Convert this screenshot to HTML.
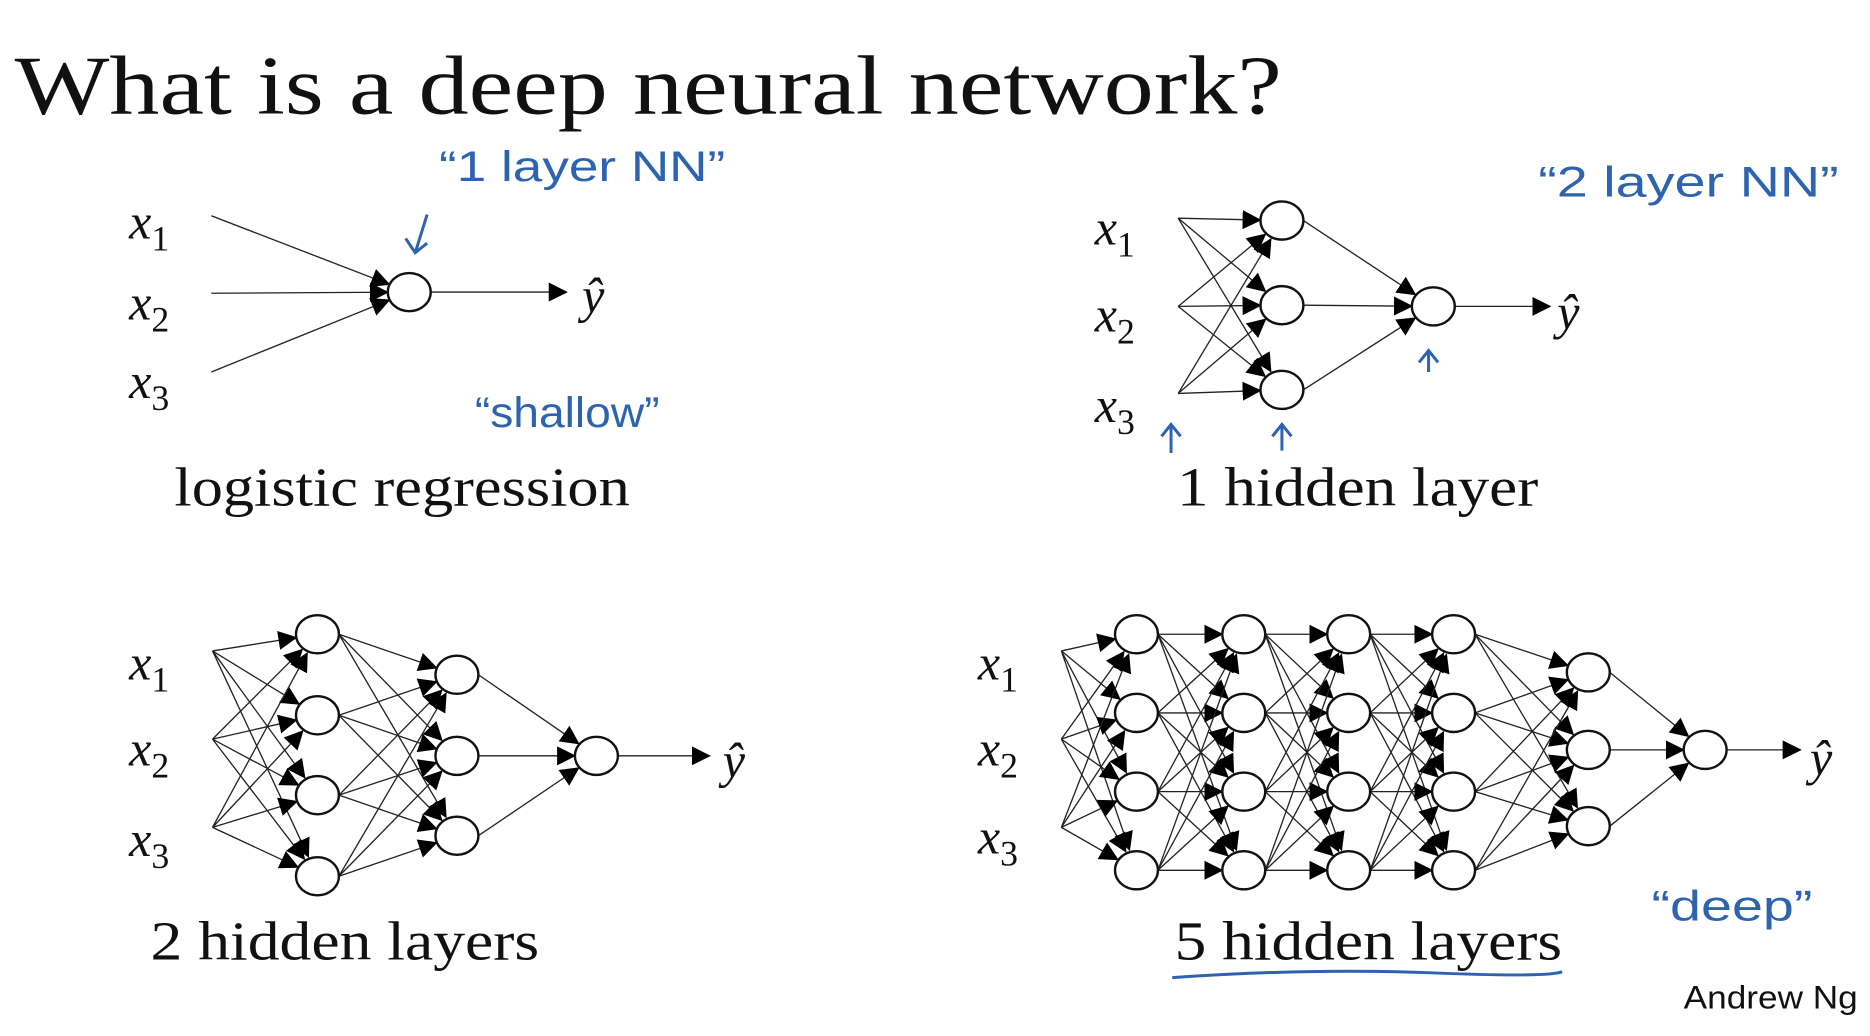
<!DOCTYPE html>
<html><head><meta charset="utf-8"><style>
html,body{margin:0;padding:0;background:#fff;}
svg{display:block}
.s{font-family:"Liberation Serif",serif;fill:#111}
.m{font-family:"Liberation Serif",serif;font-style:italic;fill:#111}
.h{font-family:"Liberation Sans",sans-serif;fill:#2e63b0}
</style></head><body>
<svg id="g" width="1870" height="1036" viewBox="0 0 1568 869" xmlns="http://www.w3.org/2000/svg">
<defs><marker id="a" markerUnits="userSpaceOnUse" markerWidth="16" markerHeight="16" refX="15" refY="8" orient="auto"><path d="M0,0 L16,8 L0,16 z" fill="#000"/></marker></defs>
<text class="s" x="12" y="95" font-size="70" textLength="1063" lengthAdjust="spacingAndGlyphs">What is a deep neural network?</text>

<g class="m" font-size="42">
<text x="108" y="200">x<tspan font-size="30" dy="10" font-style="normal">1</tspan></text>
<text x="108" y="268">x<tspan font-size="30" dy="10" font-style="normal">2</tspan></text>
<text x="108" y="334">x<tspan font-size="30" dy="10" font-style="normal">3</tspan></text>
<text x="488" y="262">ŷ</text>
<text x="918" y="205">x<tspan font-size="30" dy="10" font-style="normal">1</tspan></text>
<text x="918" y="278">x<tspan font-size="30" dy="10" font-style="normal">2</tspan></text>
<text x="918" y="354">x<tspan font-size="30" dy="10" font-style="normal">3</tspan></text>
<text x="1306" y="276">ŷ</text>
<text x="108" y="570">x<tspan font-size="30" dy="10" font-style="normal">1</tspan></text>
<text x="108" y="642">x<tspan font-size="30" dy="10" font-style="normal">2</tspan></text>
<text x="108" y="718">x<tspan font-size="30" dy="10" font-style="normal">3</tspan></text>
<text x="606" y="652">ŷ</text>
<text x="820" y="570">x<tspan font-size="30" dy="10" font-style="normal">1</tspan></text>
<text x="820" y="642">x<tspan font-size="30" dy="10" font-style="normal">2</tspan></text>
<text x="820" y="716">x<tspan font-size="30" dy="10" font-style="normal">3</tspan></text>
<text x="1518" y="650">ŷ</text>
</g>
<g class="s" font-size="46">
<text x="146" y="424" textLength="382" lengthAdjust="spacingAndGlyphs">logistic regression</text>
<text x="987" y="424" textLength="303" lengthAdjust="spacingAndGlyphs">1 hidden layer</text>
<text x="126" y="805" textLength="326" lengthAdjust="spacingAndGlyphs">2 hidden layers</text>
<text x="985" y="805" textLength="325" lengthAdjust="spacingAndGlyphs">5 hidden layers</text>
</g>
<text x="1412" y="846" font-family="Liberation Sans,sans-serif" font-size="27" fill="#111" textLength="146" lengthAdjust="spacingAndGlyphs">Andrew Ng</text>
<g class="h" font-size="36">
<text x="368" y="152" textLength="240" lengthAdjust="spacingAndGlyphs">“1  layer  NN”</text>
<text x="398" y="358" textLength="155" lengthAdjust="spacingAndGlyphs">“shallow”</text>
<text x="1290" y="165" textLength="252" lengthAdjust="spacingAndGlyphs">“2  layer NN”</text>
<text x="1385" y="772" textLength="135" lengthAdjust="spacingAndGlyphs">“deep”</text>
</g>
<g stroke="#2e63b0" stroke-width="2.5" fill="none">
<path d="M358,180 L348,212 M340,200 L348,212 L358,204"/>
<path d="M982,380 L982,356 M974,366 L982,356 L990,366"/>
<path d="M1075,378 L1075,356 M1067,366 L1075,356 L1083,366"/>
<path d="M1198,312 L1198,294 M1190,304 L1198,294 L1206,304"/>
<path d="M983,820 Q1100,812 1200,816 T1310,815"/>
</g>
<g id="e" stroke="#222" stroke-width="1.1" fill="none"></g>
<g id="n" stroke="#111" stroke-width="2" fill="#fff"></g>
</svg>
<script>
var NS="http://www.w3.org/2000/svg",E=document.getElementById('e'),N=document.getElementById('n');
var R=18,RY=16;
function line(x1,y1,x2,y2){var l=document.createElementNS(NS,'line');l.setAttribute('x1',x1);l.setAttribute('y1',y1);
var dx=x2-x1,dy=y2-y1,d=Math.hypot(dx,dy);l.setAttribute('x2',x2-dx/d*R);l.setAttribute('y2',y2-dy/d*R);l.setAttribute('marker-end','url(#a)');E.appendChild(l);}
function node(x,y){var c=document.createElementNS(NS,'ellipse');c.setAttribute('cx',x);c.setAttribute('cy',y);c.setAttribute('rx',R);c.setAttribute('ry',RY);N.appendChild(c);}
function plain(x1,y1,x2,y2,arrow){var l=document.createElementNS(NS,'line');l.setAttribute('x1',x1);l.setAttribute('y1',y1);l.setAttribute('x2',x2);l.setAttribute('y2',y2);if(arrow)l.setAttribute('marker-end','url(#a)');E.appendChild(l);}
function net(layers,outEnd){
 for(var i=1;i<layers.length;i++){
  for(var a=0;a<layers[i-1].length;a++)for(var b=0;b<layers[i].length;b++){
   var p=layers[i-1][a],q=layers[i][b];
   var sx=i==1?p[0]:p[0]+R;line(sx,p[1],q[0],q[1]);}
 }
 for(var i=1;i<layers.length;i++)layers[i].forEach(function(p){node(p[0],p[1]);});
 var o=layers[layers.length-1][0];plain(o[0]+R,o[1],outEnd,o[1],true);
}
function col(x,ys){return ys.map(function(y){return[x,y];});}
net([col(177,[181,246,312]),col(343,[245])],475);
net([col(988,[183,257,330]),col(1075,[185,256,327]),col(1202,[257])],1300);
net([col(178,[546,620,694]),col(266,[532,600,667,735]),col(383,[566,634,701]),col(500,[634])],595);
net([col(890,[546,620,694]),col(953,[532,598,664,730]),col(1043,[532,598,664,730]),col(1131,[532,598,664,730]),col(1219,[532,598,664,730]),col(1332,[564,629,693]),col(1430,[629])],1510);
</script>
</body></html>
